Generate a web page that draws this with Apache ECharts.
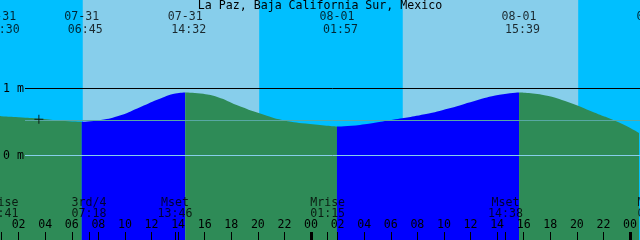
<!DOCTYPE html>
<html><head><meta charset="utf-8">
<script src="https://cdn.jsdelivr.net/npm/echarts@6/dist/echarts.min.js"></script>
<style>html,body{margin:0;padding:0;background:#00BFFF}#c{width:640px;height:240px}</style>
</head><body><div id="c"></div>
<script>
// ---------- data ----------
const titleText = 'La Paz, Baja California Sur, Mexico';
// tide curve samples (hours from 07-31 00:00, metres)
const tideHours   = [0.5, 0.675, 2.0, 3.675, 5.2, 6.75, 8.175, 9.675, 11.175, 12.675, 13.8, 14.533, 15.675, 16.95, 18.45, 20.175, 21.9, 23.925, 25.95, 27.675, 29.925, 32.55, 34.425, 36.3, 38.175, 39.65, 41.55, 43.425, 45.3, 47.175, 48.675];
const tideHeights = [0.59, 0.587, 0.572, 0.548, 0.517, 0.50, 0.528, 0.60, 0.725, 0.851, 0.925, 0.94, 0.925, 0.875, 0.751, 0.627, 0.527, 0.47, 0.432, 0.455, 0.525, 0.615, 0.705, 0.815, 0.905, 0.94, 0.90, 0.791, 0.642, 0.493, 0.337];
// turning points (low/high) separating ebb and flood fills
const tideTurnHours = [6.75, 14.533, 25.95, 39.65];
// tide event labels (top)
const tideEventDates = ['07-31', '07-31', '07-31', '08-01', '08-01', '08-02'];
const tideEventTimes = ['00:30', '06:45', '14:32', '01:57', '15:39', '01:48'];
// moon event labels (bottom)
const moonEventNames = ['Mrise', '3rd/4', 'Mset', 'Mrise', 'Mset', 'Mrise'];
const moonEventDates = ['07-31', '07-31', '07-31', '08-01', '08-01', '08-02'];
const moonEventTimes = ['00:41', '07:18', '13:46', '01:15', '14:38', '01:52'];
// daylight bands (hours)
const dayStartHours = [6.825, 30.9];
const dayEndHours   = [20.1, 44.1];
// hour tick labels
const hourTicks = [2, 4, 6, 8, 10, 12, 14, 16, 18, 20, 22, 24, 26, 28, 30, 32, 34, 36, 38, 40, 42, 44, 46, 48];
const midnightTicks = [24, 48];
// reference levels (m)
const refLevels = [1, 0.5224, 0];
const refColors = ['#000000', '#58a8a4', '#87CEEB'];
const yLabelLevels = [0, 1];
// marker
const markerPoint = [3.525, 0.54];

// ---------- config ----------
const FONT = 'DejaVu Sans Mono';
const FS = 11.6;
const X_MIN = 0.675, X_MAX = 48.675;
const Y_MAX = 2.3209, Y_MIN = -1.2612;
const EBB = '#2E8B57', FLOOD = '#0000FF', DAY = '#87CEEB', NIGHT = '#00BFFF';

function toHour(date, clock) {
  const d = +date.split('-')[1];
  const off = d === 31 ? 0 : d * 24;
  const [h, m] = clock.split(':').map(Number);
  return off + h + m / 60;
}

const pts = tideHours.map((t, i) => [t, tideHeights[i]]);
const bounds = [-Infinity, ...tideTurnHours, Infinity];
const eps = 0.005;
const areaSeries = bounds.slice(0, -1).map((a, i) => {
  const b = bounds[i + 1];
  return {
    type: 'line', xAxisIndex: 0, yAxisIndex: 0,
    data: pts.filter(p => p[0] >= a - eps && p[0] <= b + eps),
    smooth: 0.5, symbol: 'none', showSymbol: false,
    lineStyle: { width: 0 },
    areaStyle: { color: i % 2 === 0 ? EBB : FLOOD, opacity: 1, origin: 'start' },
    z: 2, silent: true
  };
});

const textStyle = { fontFamily: FONT, fontSize: FS, color: '#000' };

const tideLabelData = tideEventDates.map((d, i) => ({
  value: [toHour(d, tideEventTimes[i]), Y_MAX],
  label: { formatter: d + '\n ' + tideEventTimes[i] }
}));
const moonLabelData = moonEventNames.map((n, i) => ({
  value: [toHour(moonEventDates[i], moonEventTimes[i]), Y_MIN],
  label: { formatter: n + '\n' + moonEventTimes[i] }
}));
const moonTickHours = moonEventNames.map((n, i) => toHour(moonEventDates[i], moonEventTimes[i]))
  .filter(t => t >= X_MIN && t <= X_MAX);

function bottomAxis(tickValues, width, labelValues) {
  return {
    type: 'value', gridIndex: 0, position: 'bottom', offset: 0, z: 10,
    min: X_MIN, max: X_MAX,
    axisLine: { show: false, onZero: false }, splitLine: { show: false },
    axisTick: tickValues ? { show: true, inside: true, length: 8, customValues: tickValues, lineStyle: { color: '#000', width: width } } : { show: false },
    axisLabel: labelValues ? {
      show: true, inside: true, margin: 9, customValues: labelValues,
      formatter: v => String(Math.round(v) % 24).padStart(2, '0'),
      ...textStyle
    } : { show: false }
  };
}

const chart = echarts.init(document.getElementById('c'), null, { renderer: 'canvas' });
chart.setOption({
  backgroundColor: NIGHT,
  animation: false,
  title: {
    text: titleText, left: 'center', top: 0, padding: 0,
    textStyle: { ...textStyle, fontWeight: 'normal', lineHeight: 12 }
  },
  grid: [
    { left: 0, right: 0, top: 0, bottom: 0, containLabel: false },
    { left: 25, right: 0, top: 0, bottom: 0, containLabel: false }
  ],
  xAxis: [
    bottomAxis(hourTicks.filter(h => midnightTicks.indexOf(h) < 0), 1, hourTicks),
    bottomAxis(midnightTicks, 3, null),
    bottomAxis(moonTickHours, 1, null),
    { type: 'value', gridIndex: 1, min: 0, max: 1, show: false }
  ],
  yAxis: [
    {
      type: 'value', gridIndex: 0, min: Y_MIN, max: Y_MAX, z: 10,
      axisLine: { show: false, onZero: false }, axisTick: { show: false }, splitLine: { show: false },
      axisLabel: { show: true, inside: true, margin: 2, customValues: yLabelLevels, formatter: v => v + ' m', ...textStyle }
    },
    { type: 'value', gridIndex: 1, min: Y_MIN, max: Y_MAX, show: false }
  ],
  series: [
    {
      type: 'line', xAxisIndex: 0, yAxisIndex: 0, data: [], z: 0, silent: true,
      markArea: {
        silent: true,
        data: dayStartHours.map((s, i) => [
          { xAxis: s, itemStyle: { color: DAY, opacity: 1 } },
          { xAxis: dayEndHours[i] }
        ])
      }
    },
    ...areaSeries,
    {
      type: 'line', xAxisIndex: 3, yAxisIndex: 1, data: [], z: 5, silent: true,
      markLine: {
        silent: true, symbol: 'none', label: { show: false },
        data: refLevels.map((v, i) => ({ yAxis: v, lineStyle: { color: refColors[i], width: 1, type: 'solid', opacity: 1 } }))
      }
    },
    {
      type: 'scatter', xAxisIndex: 0, yAxisIndex: 0, z: 6, silent: true,
      data: [markerPoint],
      symbol: 'path://M4,0H5V4H9V5H5V9H4V5H0V4H4Z', symbolSize: 9,
      itemStyle: { color: '#000' }
    },
    {
      type: 'scatter', xAxisIndex: 0, yAxisIndex: 0, z: 7, silent: true, clip: false,
      data: tideLabelData, symbolSize: 1, itemStyle: { color: 'rgba(0,0,0,0)' },
      label: { show: true, position: 'inside', offset: [0, 23.6], lineHeight: 12.7, align: 'center', ...textStyle }
    },
    {
      type: 'scatter', xAxisIndex: 0, yAxisIndex: 0, z: 7, silent: true, clip: false,
      data: moonLabelData, symbolSize: 1, itemStyle: { color: 'rgba(0,0,0,0)' },
      label: { show: true, position: 'inside', offset: [0, -31.75], lineHeight: 11.5, align: 'center', ...textStyle }
    }
  ]
});
</script>
</body></html>
